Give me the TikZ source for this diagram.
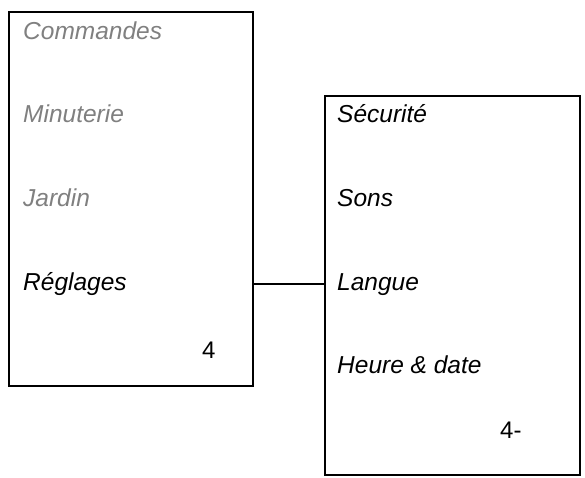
\documentclass[tikz,border=0pt]{standalone}
\usepackage{fontspec}
\setmainfont{Liberation Sans}
\definecolor{greytext}{HTML}{808080}
\begin{document}
\begin{tikzpicture}[x=1pt,y=-1pt,
  box/.style={draw=black,line width=2pt,inner sep=0pt,anchor=north west},
  item/.style={anchor=base west,inner sep=0pt,font=\fontsize{24.5}{29}\selectfont\itshape},
  dim/.style={item,text=greytext},
  num/.style={anchor=base west,inner sep=0pt,font=\fontsize{24}{29}\selectfont},
  link/.style={draw=black,line width=1.8pt}]
\useasboundingbox[fill=white] (0,0) rectangle (585,478);

\node[box,minimum width=244pt,minimum height=374pt] (L) at (8,11) {};
\node[box,minimum width=255pt,minimum height=379pt] (R) at (324,95) {};

\node[dim]  (cmd)  at (23,40)  {Commandes};
\node[dim]  (min)  at (23,123) {Minuterie};
\node[dim]  (jar)  at (23,207) {Jardin};
\node[item] (reg)  at (23,290) {Réglages};
\node[num]  (n4)   at (202,358) {4};

\node[item] (sec)  at (337,123) {Sécurité};
\node[item] (son)  at (337,206) {Sons};
\node[item] (lan)  at (337,290) {Langue};
\node[item] (heu)  at (337,373) {Heure \& date};
\node[num]  (n4b)  at (500,438) {4-};

\coordinate (cy) at (0,284);
\draw[link] (L.east |- cy) -- (R.west |- cy);
\end{tikzpicture}
\end{document}
